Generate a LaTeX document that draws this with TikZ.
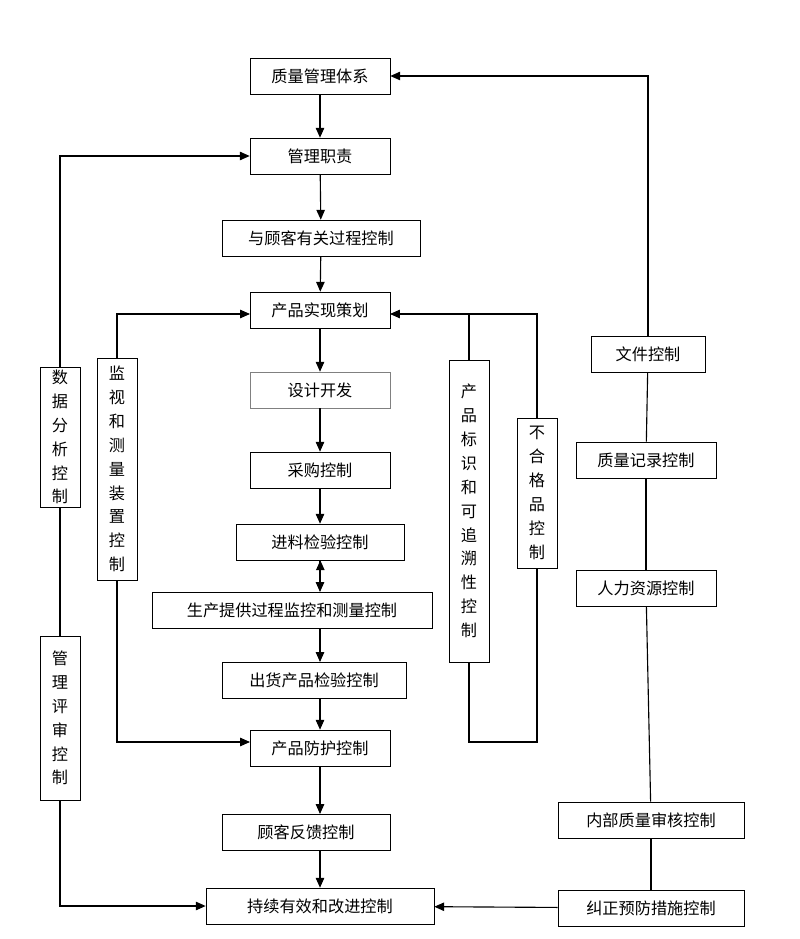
\documentclass[tikz,border=0pt]{standalone}
\usepackage{fontspec}
\newfontfamily\cjk{Noto Sans CJK SC}
\usetikzlibrary{arrows.meta, positioning}

\begin{document}
\begin{tikzpicture}[
  x=0.025cm, y=-0.025cm,
  box/.style={
    rectangle,
    draw,
    align=center,
    font=\cjk\fontsize{11.5}{17}\selectfont,
    minimum height=0.9cm,
    inner sep=2pt
  },
  vbox/.style={
    box,
    minimum width=1cm,
    text width=0.6cm
  },
  arrow/.style={-{Triangle[length=7pt,width=6pt]}, thick},
  line/.style={thick}
]
\useasboundingbox (0,0) rectangle (800,939);

\node[box, minimum width=3.5cm] (qms) at (320,76) {质量管理体系};
\node[box, minimum width=3.5cm] (duty) at (320,156) {管理职责};
\node[box, minimum width=4.95cm] (cust) at (321,238) {与顾客有关过程控制};
\node[box, minimum width=3.5cm] (plan) at (320,310) {产品实现策划};
\node[box, minimum width=3.5cm, draw=gray] (design) at (320,390) {设计开发};
\node[box, minimum width=3.5cm] (buy) at (320,470) {采购控制};
\node[box, minimum width=4.2cm] (incoming) at (320,542) {进料检验控制};
\node[box, minimum width=7.0cm] (prod) at (292,610) {生产提供过程监控和测量控制};
\node[box, minimum width=4.6cm] (ship) at (314,680) {出货产品检验控制};
\node[box, minimum width=3.5cm] (protect) at (320,748) {产品防护控制};
\node[box, minimum width=4.2cm] (feedback) at (306,832) {顾客反馈控制};
\node[box, minimum width=5.7cm] (improve) at (320,906) {持续有效和改进控制};

\node[vbox, minimum height=3.4cm] (data) at (60,437) {数\\据\\分\\析\\控\\制};
\node[vbox, minimum height=4.1cm] (review) at (60,718) {管\\理\\评\\审\\控\\制};
\node[vbox, minimum height=5.55cm] (monitor) at (117,469) {监\\视\\和\\测\\量\\装\\置\\控\\制};
\node[vbox, minimum height=7.55cm] (trace) at (469,511) {产\\品\\标\\识\\和\\可\\追\\溯\\性\\控\\制};
\node[vbox, minimum height=3.75cm] (ncp) at (537,493) {不\\合\\格\\品\\控\\制};

\node[box, minimum width=2.85cm] (doc) at (648,354) {文件控制};
\node[box, minimum width=3.5cm] (record) at (646,460) {质量记录控制};
\node[box, minimum width=3.5cm] (hr) at (646,588) {人力资源控制};
\node[box, minimum width=4.65cm] (audit) at (651,820) {内部质量审核控制};
\node[box, minimum width=4.65cm] (capa) at (651,908) {纠正预防措施控制};

% main chain
\draw[arrow] (qms) -- (duty);
\draw[arrow] (duty) -- (cust);
\draw[arrow] (cust) -- (plan);
\draw[arrow] (plan) -- (design);
\draw[arrow] (design) -- (buy);
\draw[arrow] (buy) -- (incoming);
\draw[arrow] (incoming.south -| ship.east) ++(-86,0) coordinate (a1);
\draw[arrow] (320,560) -- (320,592);
\draw[arrow] (320,628) -- (320,662);
\draw[arrow] (320,698) -- (protect);
\draw[arrow] (protect) -- (320,814);
\draw[arrow] (320,850) -- (improve);

% right side
\draw[arrow] (doc.north) |- (qms.east);
\draw[line] (doc) -- (record);
\draw[line] (record) -- (hr);
\draw[line] (hr) -- (audit);
\draw[line] (audit) -- (capa);
\draw[arrow] (capa) -- (improve);

% left side
\draw[arrow] (data.north) |- (duty.west);
\draw[line] (data) -- (review);
\draw[arrow] (review.south) |- (improve.west);

% loops around realisation
\coordinate (pl) at (250,314);
\coordinate (pr) at (390,314);
\draw[arrow] (monitor.north) |- (pl);
\draw[arrow] (monitor.south) |- (250,742);
\draw[line] (trace.north) -- (469,314);
\draw[arrow] (ncp.north) |- (pr);
\draw[line] (trace.south) |- (537,742) -- (ncp.south);

\end{tikzpicture}
\end{document}
